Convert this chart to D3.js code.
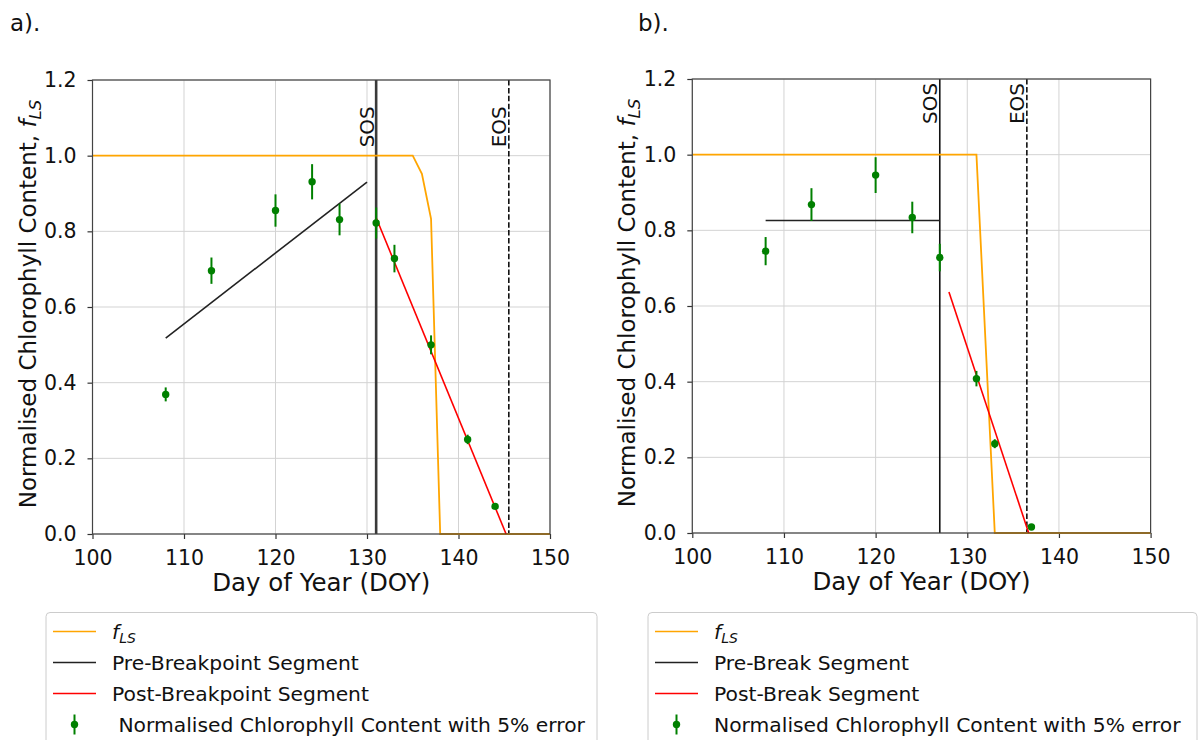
<!DOCTYPE html>
<html>
<head>
<meta charset="utf-8">
<script src="https://cdn.jsdelivr.net/npm/d3@7"></script>
<style>
  body { margin: 0; background: #ffffff; }
  svg text { font-family: "DejaVu Sans", sans-serif; }
</style>
</head>
<body>
<svg id="chart" width="1198" height="740"></svg>
<script>
var xTicks = [100, 110, 120, 130, 140, 150];
var yTicks = [0, 0.2, 0.4, 0.6, 0.8, 1.0, 1.2];
var errorFraction = 0.05;

// panel a (breakpoint fit)
var obsDaysA = [108, 113, 120, 124, 127, 131, 133, 137, 141, 144];
var obsValsA = [0.369, 0.696, 0.855, 0.931, 0.831, 0.822, 0.728, 0.500, 0.250, 0.073];
var fLsDaysA = [100, 135, 136, 137, 138, 150];
var fLsValsA = [1.0, 1.0, 0.952, 0.833, 0.0, 0.0];
var preDaysA = [108, 130];
var preValsA = [0.518, 0.930];
var postDaysA = [131, 145.2];
var postValsA = [0.836, 0.0];
var sosEosA = [131, 145.5];
var legendLabelsA = ["Pre-Breakpoint Segment", "Post-Breakpoint Segment", " Normalised Chlorophyll Content with 5% error"];

// panel b (break fit)
var obsDaysB = [108, 113, 120, 124, 127, 131, 133, 137];
var obsValsB = [0.745, 0.868, 0.946, 0.834, 0.728, 0.408, 0.236, 0.016];
var fLsDaysB = [100, 131, 133, 150];
var fLsValsB = [1.0, 1.0, 0.0, 0.0];
var preDaysB = [108, 127];
var preValsB = [0.826, 0.826];
var postDaysB = [128, 136.7];
var postValsB = [0.637, 0.0];
var sosEosB = [127, 136.5];
var legendLabelsB = ["Pre-Break Segment", "Post-Break Segment", "Normalised Chlorophyll Content with 5% error"];

var CHART = {};
CHART.svg = d3.select("#chart");
CHART.svg.append("rect").attr("width", 1198).attr("height", 740).attr("fill", "#ffffff");

CHART.fls = function(sel, size, shift){
  sel.append("tspan").attr("font-style", "italic").text("f");
  sel.append("tspan").attr("font-style", "italic").attr("font-size", size)
    .attr("dy", shift).text("LS");
};

CHART.drawPanel = function(p){
  var svg = CHART.svg;
  var g = svg.append("g").attr("transform", "translate(" + p.left + "," + p.top + ")");
  var x = d3.scaleLinear().domain([100, 150]).range([0, p.width]);
  var y = d3.scaleLinear().domain([0, 1.2]).range([p.height, 0]);

  // grid
  g.append("g").selectAll("line").data(xTicks).enter().append("line")
    .attr("x1", function(d){ return x(d); }).attr("x2", function(d){ return x(d); })
    .attr("y1", 0).attr("y2", p.height)
    .attr("stroke", "#d3d3d3").attr("stroke-width", 1);
  g.append("g").selectAll("line").data(yTicks).enter().append("line")
    .attr("y1", function(d){ return y(d); }).attr("y2", function(d){ return y(d); })
    .attr("x1", 0).attr("x2", p.width)
    .attr("stroke", "#d3d3d3").attr("stroke-width", 1);

  // axes
  var xAxis = g.append("g").attr("transform", "translate(0," + p.height + ")")
    .call(d3.axisBottom(x).tickValues(xTicks).tickSize(5).tickSizeOuter(0)
      .tickPadding(11).tickFormat(d3.format("d")));
  var yAxis = g.append("g")
    .call(d3.axisLeft(y).tickValues(yTicks).tickSize(5).tickSizeOuter(0)
      .tickPadding(11).tickFormat(d3.format(".1f")));
  [xAxis, yAxis].forEach(function(a){
    a.select(".domain").remove();
    a.attr("font-family", null).attr("font-size", 20.5);
    a.selectAll("text").attr("fill", "#111111");
    a.selectAll("line").attr("stroke", "#333333").attr("stroke-width", 1.2);
  });

  // SOS / EOS markers
  g.append("line")
    .attr("x1", x(p.sosEos[0])).attr("x2", x(p.sosEos[0]))
    .attr("y1", 0).attr("y2", p.height)
    .attr("stroke", p.sosColor).attr("stroke-width", p.sosWidth);
  g.append("line")
    .attr("x1", x(p.sosEos[1])).attr("x2", x(p.sosEos[1]))
    .attr("y1", 0).attr("y2", p.height)
    .attr("stroke", "#000000").attr("stroke-width", 1.5)
    .attr("stroke-dasharray", "5.5,2.4");
  ["SOS", "EOS"].forEach(function(t, i){
    g.append("text")
      .attr("transform", "translate(" + (x(p.sosEos[i]) - 2.5) + "," + y(p.labelY) + ") rotate(-90)")
      .attr("font-size", 20).attr("fill", "#111111")
      .text(t);
  });

  var line = d3.line().x(function(d){ return x(d[0]); }).y(function(d){ return y(d[1]); });
  g.append("path").datum(d3.zip(p.fLsDays, p.fLsVals)).attr("d", line)
    .attr("fill", "none").attr("stroke", "#FFA500").attr("stroke-width", 1.8);
  g.append("path").datum(d3.zip(p.preDays, p.preVals)).attr("d", line)
    .attr("fill", "none").attr("stroke", "#222222").attr("stroke-width", 1.6);
  g.append("path").datum(d3.zip(p.postDays, p.postVals)).attr("d", line)
    .attr("fill", "none").attr("stroke", "#FF0000").attr("stroke-width", 1.6);

  // observations with error bars
  var obs = d3.zip(p.obsDays, p.obsVals);
  g.append("g").selectAll("line").data(obs).enter().append("line")
    .attr("x1", function(d){ return x(d[0]); }).attr("x2", function(d){ return x(d[0]); })
    .attr("y1", function(d){ return y(d[1] * (1 - errorFraction)); })
    .attr("y2", function(d){ return y(d[1] * (1 + errorFraction)); })
    .attr("stroke", "#008000").attr("stroke-width", 2);
  g.append("g").selectAll("circle").data(obs).enter().append("circle")
    .attr("cx", function(d){ return x(d[0]); }).attr("cy", function(d){ return y(d[1]); })
    .attr("r", 3.7).attr("fill", "#008000");

  // frame
  g.append("rect").attr("width", p.width).attr("height", p.height)
    .attr("fill", "none").attr("stroke", "#444444").attr("stroke-width", 1.2);

  // axis titles
  svg.append("text")
    .attr("x", p.left + p.width / 2).attr("y", p.top + p.height + 57)
    .attr("text-anchor", "middle").attr("font-size", 24.5).attr("fill", "#111111")
    .text("Day of Year (DOY)");
  var yl = svg.append("text")
    .attr("transform", "translate(" + (p.left - 57) + "," + (p.top + p.height / 2 - 3) + ") rotate(-90)")
    .attr("text-anchor", "middle").attr("font-size", 23).attr("fill", "#111111");
  yl.append("tspan").text("Normalised Chlorophyll Content, ");
  CHART.fls(yl, 16.5, 5);

  // panel tag
  svg.append("text").attr("x", p.tagX).attr("y", 31)
    .attr("font-family", "'Open Sans', 'Liberation Sans', sans-serif")
    .attr("font-size", 23).attr("fill", "#111111").text(p.tag);

  // legend
  var lg = svg.append("g").attr("transform", "translate(" + p.legendX + ",612.5)");
  lg.append("rect").attr("width", p.legendW).attr("height", 160).attr("rx", 4)
    .attr("fill", "#ffffff").attr("stroke", "#cccccc").attr("stroke-width", 1);
  var rows = [
    {color: "#FFA500", label: null},
    {color: "#222222", label: p.legendLabels[0]},
    {color: "#FF0000", label: p.legendLabels[1]},
    {color: null, label: p.legendLabels[2]}
  ];
  rows.forEach(function(r, i){
    var cy = 19 + i * 31;
    if (r.color) {
      lg.append("line").attr("x1", 7).attr("x2", 50).attr("y1", cy).attr("y2", cy)
        .attr("stroke", r.color).attr("stroke-width", 1.6);
    } else {
      lg.append("line").attr("x1", 28.5).attr("x2", 28.5).attr("y1", cy - 10).attr("y2", cy + 10)
        .attr("stroke", "#008000").attr("stroke-width", 2);
      lg.append("circle").attr("cx", 28.5).attr("cy", cy).attr("r", 3.7).attr("fill", "#008000");
    }
    var t = lg.append("text").attr("x", 66).attr("y", cy + 7)
      .attr("font-size", 20.3).attr("fill", "#111111").style("white-space", "pre");
    if (r.label === null) {
      CHART.fls(t, 14, 4);
    } else {
      t.text(r.label);
    }
  });
};

CHART.drawPanel({
  left: 92.5, top: 80, width: 457.5, height: 454,
  obsDays: obsDaysA, obsVals: obsValsA,
  fLsDays: fLsDaysA, fLsVals: fLsValsA,
  preDays: preDaysA, preVals: preValsA,
  postDays: postDaysA, postVals: postValsA,
  sosEos: sosEosA, labelY: 1.022,
  sosColor: "#3a3a3a", sosWidth: 2.6,
  legendLabels: legendLabelsA,
  legendX: 46, legendW: 551,
  tag: "a).", tagX: 10
});

CHART.drawPanel({
  left: 692.3, top: 79, width: 458.3, height: 454,
  obsDays: obsDaysB, obsVals: obsValsB,
  fLsDays: fLsDaysB, fLsVals: fLsValsB,
  preDays: preDaysB, preVals: preValsB,
  postDays: postDaysB, postVals: postValsB,
  sosEos: sosEosB, labelY: 1.081,
  sosColor: "#111111", sosWidth: 1.6,
  legendLabels: legendLabelsB,
  legendX: 648, legendW: 549,
  tag: "b).", tagX: 638
});
</script>
</body>
</html>
